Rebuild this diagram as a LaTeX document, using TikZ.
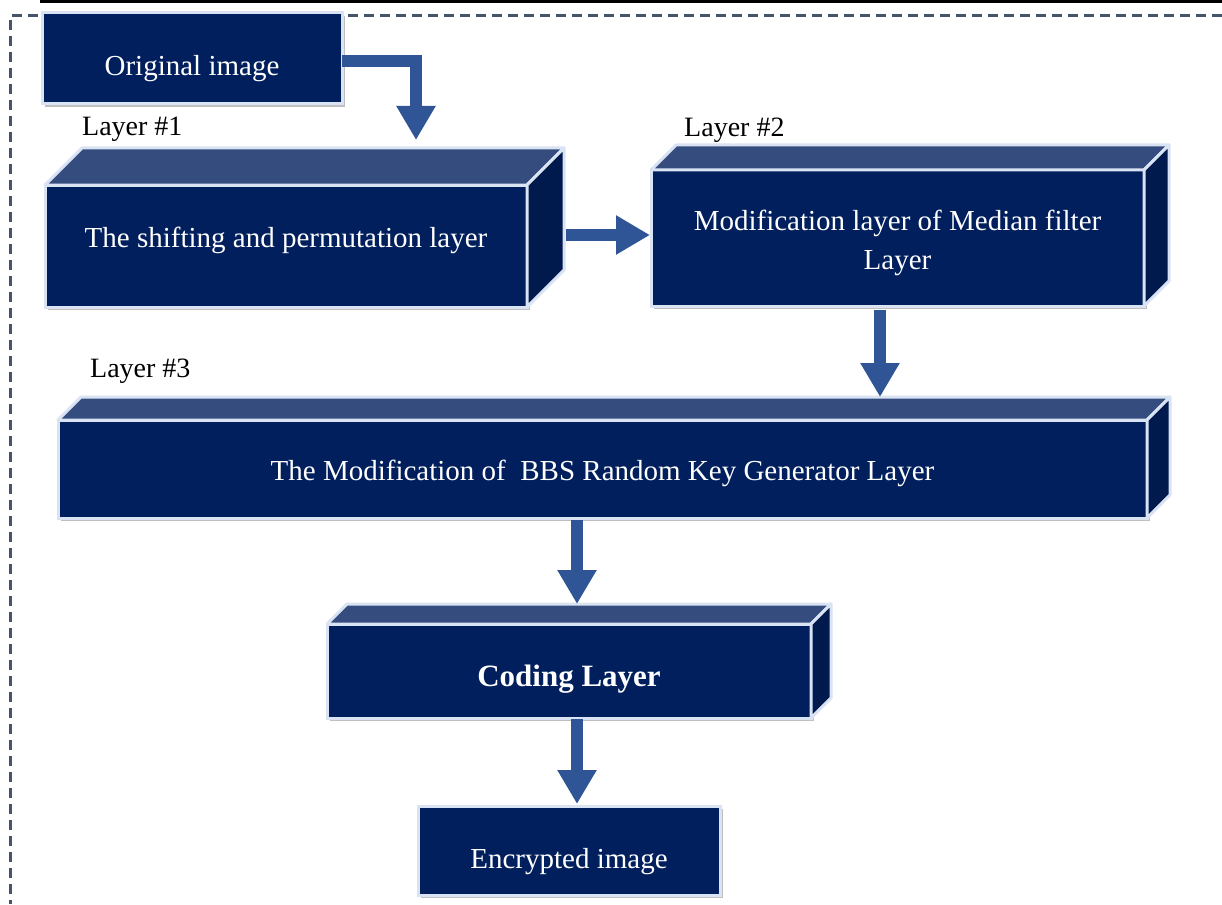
\documentclass[tikz,border=0pt]{standalone}
\usepackage{fontspec}
\setmainfont{Liberation Serif}
\usetikzlibrary{arrows.meta,shadows,calc}
\definecolor{navy}{RGB}{0,31,92}
\definecolor{topc}{RGB}{52,77,126}
\definecolor{sidec}{RGB}{0,26,77}
\definecolor{edgec}{RGB}{218,227,243}
\definecolor{arrowc}{RGB}{47,85,151}
\definecolor{dashc}{RGB}{68,84,106}
\pgfdeclarelayer{bg}
\pgfsetlayers{bg,main}
\tikzset{
  front/.style={draw=edgec, fill=navy, line width=3pt, outer sep=0pt, inner sep=0pt,
    text=white, align=center, font=\fontsize{29}{39}\selectfont,
    drop shadow={shadow xshift=3pt,shadow yshift=-3pt,fill=black,opacity=0.25}},
  topface/.style={draw=edgec, fill=topc, line width=3pt, line join=round},
  sideface/.style={draw=edgec, fill=sidec, line width=3pt, line join=round},
  shadowface/.style={fill=black, opacity=0.25},
  bigarrow/.style={draw=arrowc, line width=12pt, -{Triangle[width=37pt,length=34pt]}},
  layerlabel/.style={font=\fontsize{28}{32}\selectfont, anchor=west, inner sep=0pt},
  dashframe/.style={draw=dashc, line width=3pt, dash pattern=on 10pt off 6pt}
}
\newcommand{\cubefaces}[2]{%
  \begin{pgfonlayer}{bg}
    \fill[shadowface] ([shift={(3,3)}]#2.south east) -- ([shift={(#1+3,-#1+3)}]#2.south east)
      -- ([shift={(#1+3,-#1+3)}]#2.north east) -- ([shift={(3,3)}]#2.north east) -- cycle;
  \end{pgfonlayer}
  \filldraw[topface] (#2.north west) -- ([shift={(#1,-#1)}]#2.north west)
    -- ([shift={(#1,-#1)}]#2.north east) -- (#2.north east) -- cycle;
  \filldraw[sideface] (#2.north east) -- ([shift={(#1,-#1)}]#2.north east)
    -- ([shift={(#1,-#1)}]#2.south east) -- (#2.south east) -- cycle;
}
\begin{document}
\begin{tikzpicture}[x=1pt,y=-1pt]
\useasboundingbox[fill=white] (0,0) rectangle (1222,904);
\draw[line width=3pt] (40,1.5) -- (1222,1.5);
\draw[dashframe] (1222,16) -- (10,16) -- (10,904);

\node[front, minimum width=300pt, minimum height=91pt, text height=40pt, text depth=6pt] (orig) at (192,58.5) {Original image};

\node[front, minimum width=482pt, minimum height=122pt, text height=26pt, text depth=24pt] (L1) at (286,246) {The shifting and permutation layer};
\cubefaces{37}{L1}

\node[front, minimum width=493pt, minimum height=136pt] (L2) at (897.5,238) {\rule{0pt}{31pt}Modification layer of Median filter\\Layer};
\cubefaces{25}{L2}

\node[front, minimum width=1089pt, minimum height=98pt, text height=28pt, text depth=6pt] (L3) at (602.5,469) {The Modification of \ BBS Random Key Generator Layer};
\cubefaces{23}{L3}

\node[front, minimum width=484pt, minimum height=94pt, text height=37pt, text depth=7pt, font=\fontsize{31}{36}\selectfont\bfseries] (coding) at (569,671) {Coding Layer};
\cubefaces{20}{coding}

\node[front, minimum width=302pt, minimum height=89pt, text height=42pt, text depth=6pt] (enc) at (569,850.5) {Encrypted image};

\node[layerlabel] (lab1) at (82,129) {Layer \#1};
\node[layerlabel] (lab2) at (684,130) {Layer \#2};
\node[layerlabel] (lab3) at (90,371) {Layer \#3};

\draw[bigarrow] ([yshift=-3pt]orig.east) -| ([xshift=371pt,yshift=45pt]L1.north west);
\draw[bigarrow] ([xshift=39pt,yshift=11pt]L1.east) -- ([xshift=-1pt,yshift=3pt]L2.west);
\draw[bigarrow] ([xshift=-17.5pt,yshift=-4pt]L2.south) -- ([xshift=277.5pt,yshift=23pt]L3.north);
\draw[bigarrow] ([xshift=-25.5pt,yshift=-2pt]L3.south) -- ([xshift=8pt,yshift=20pt]coding.north);
\draw[bigarrow] ([xshift=8pt,yshift=-1pt]coding.south) -- ([xshift=8pt,yshift=2pt]enc.north);
\end{tikzpicture}
\end{document}
